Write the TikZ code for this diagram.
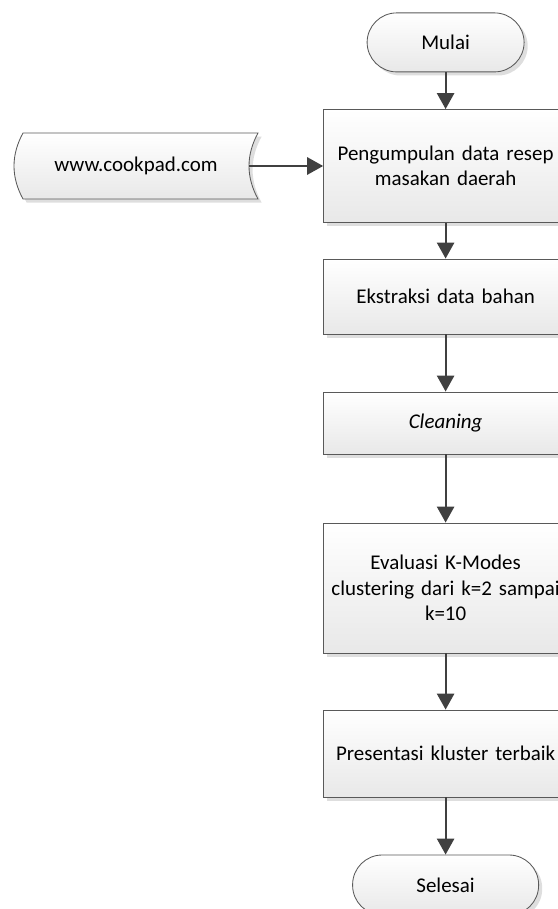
\documentclass[tikz,border=0pt]{standalone}
\usepackage{fontspec}
\setmainfont{Carlito}
\usepackage{tikz}
\usetikzlibrary{arrows.meta, shadows}

\tikzset{
	isi/.style={draw=black!65, line width=0.6pt, top color=white, bottom color=black!9,
		drop shadow={shadow xshift=0.09cm, shadow yshift=-0.09cm, fill=black!13, opacity=1}},
	proses/.style={isi, minimum width=6.1cm, text width=5.8cm, align=center,
		font=\fontsize{14.9pt}{18pt}\selectfont},
	terminal/.style={proses, rounded corners=0.74cm, text width=3cm},
	panah/.style={draw=black!75, line width=1.5pt, -{Triangle[length=0.4cm,width=0.43cm]}}
}

\begin{document}
\begin{tikzpicture}
\useasboundingbox (0,0) rectangle (13.95,-22.725);

% sumber data
\path[isi] (0.575,-3.325) -- (6.45,-3.325) .. controls (6.15,-3.875) and (6.15,-4.425) .. (6.45,-4.975)
	-- (0.575,-4.975) .. controls (0.275,-4.425) and (0.275,-3.875) .. (0.575,-3.325) -- cycle;
\node[font=\fontsize{14.9pt}{18pt}\selectfont, minimum width=5.65cm] (web) at (3.4,-4.15) {www.cookpad.com};

% alur utama
\node[terminal, minimum width=3.925cm, minimum height=1.475cm] (mulai) at (11.14,-1.06) {Mulai};
\node[proses, minimum height=2.825cm] (kumpul) at (11.14,-4.15) {Pengumpulan data resep\\masakan daerah};
\node[proses, minimum height=1.875cm] (ekstrak) at (11.14,-7.4125) {Ekstraksi data bahan};
\node[proses, minimum height=1.55cm] (bersih) at (11.14,-10.575) {\textit{Cleaning}};
\node[proses, minimum height=3.25cm] (evaluasi) at (11.14,-14.7) {Evaluasi K-Modes\\clustering dari k=2 sampai\\k=10};
\node[proses, minimum height=2.175cm] (presentasi) at (11.14,-18.8375) {Presentasi kluster terbaik};
\node[terminal, minimum width=4.65cm, minimum height=1.5cm] (selesai) at (11.14,-22.125) {Selesai};

\draw[panah] (web.east) -- (kumpul.west);
\draw[panah] (mulai) -- (kumpul);
\draw[panah] (kumpul) -- (ekstrak);
\draw[panah] (ekstrak) -- (bersih);
\draw[panah] (bersih) -- (evaluasi);
\draw[panah] (evaluasi) -- (presentasi);
\draw[panah] (presentasi) -- (selesai);
\end{tikzpicture}
\end{document}
